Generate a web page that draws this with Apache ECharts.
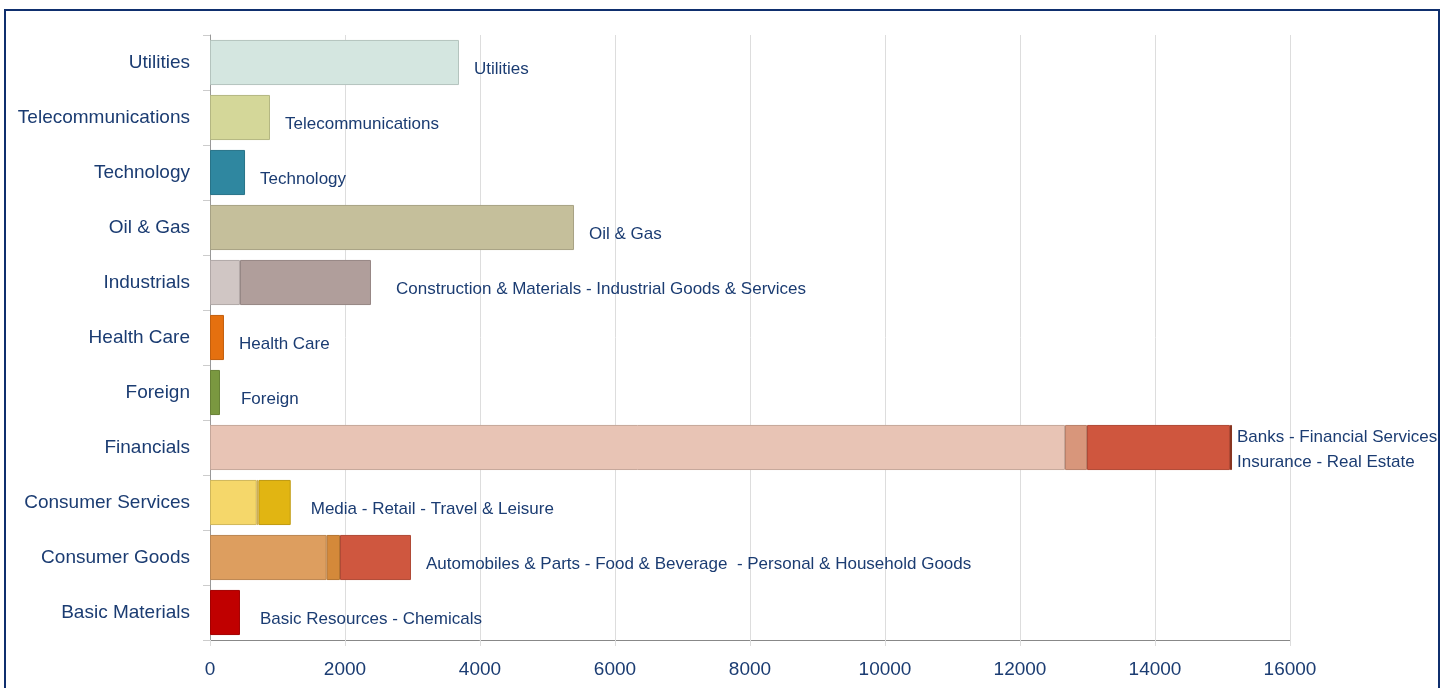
<!DOCTYPE html>
<html>
<head>
<meta charset="utf-8">
<script src="https://cdn.jsdelivr.net/npm/echarts@6/dist/echarts.min.js"></script>
<style>
	html, body { margin: 0; padding: 0; background: #fff; overflow: hidden; }
	#frame { position: absolute; left: 4px; top: 9px; width: 1432px; height: 700px; border: 2px solid #0f2f6e; }
	#main { position: absolute; left: 0; top: 0; width: 1445px; height: 688px; }
</style>
</head>
<body>
<div id="frame"></div>
<div id="main"></div>
<script>
// categories, bottom to top
var sectors = ['Basic Materials', 'Consumer Goods', 'Consumer Services', 'Financials', 'Foreign',
	'Health Care', 'Industrials', 'Oil & Gas', 'Technology', 'Telecommunications', 'Utilities'];

// stacked segments
var seg1 = [444, 1728, 692, 12667, 148, 207, 444, 5393, 519, 889, 3689];
var seg2 = [0, 198, 26, 326, 0, 0, 1941, 0, 0, 0, 0];
var seg3 = [0, 1052, 478, 2118, 0, 0, 0, 0, 0, 0, 0];
var seg4 = [0, 0, 0, 30, 0, 0, 0, 0, 0, 0, 0];

var barLabels = [
	'Basic Resources - Chemicals',
	'Automobiles & Parts - Food & Beverage  - Personal & Household Goods',
	'Media - Retail - Travel & Leisure',
	'Banks - Financial Services\nInsurance - Real Estate',
	'Foreign',
	'Health Care',
	'Construction & Materials - Industrial Goods & Services',
	'Oil & Gas',
	'Technology',
	'Telecommunications',
	'Utilities'
];

var segColors = [
	['#c00000'],
	['#dd9e5f', '#d4893a', '#cf573f'],
	['#f5d76a', '#ecc55c', '#e1b512'],
	['#e8c4b5', '#d8967b', '#cf563e', '#a03d25'],
	['#7a9840'],
	['#e5700f'],
	['#d0c6c4', '#b09e9b'],
	['#c5bf9b'],
	['#2f87a0'],
	['#d4d799'],
	['#d4e6e0']
];

var TEXT = '#1b3c72';
var FONT = "'Liberation Sans', Arial, sans-serif";
var segs = [seg1, seg2, seg3, seg4];
// a few labels sit a little further from their bar
var extraGap = { 'Industrials': 10, 'Foreign': 6, 'Basic Materials': 5, 'Consumer Services': 5 };

function darker(hex) {
	var n = parseInt(hex.slice(1), 16);
	var r = Math.round(((n >> 16) & 255) * 0.85);
	var g = Math.round(((n >> 8) & 255) * 0.85);
	var b = Math.round((n & 255) * 0.85);
	return 'rgb(' + r + ',' + g + ',' + b + ')';
}

function lastSeg(i) {
	var last = 0;
	for (var s = 0; s < segs.length; s++) {
		if (segs[s][i] > 0) last = s;
	}
	return last;
}

var series = segs.map(function(vals, s) {
	return {
		type: 'bar',
		stack: 'total',
		barCategoryGap: '18%',
		data: vals.map(function(v, i) {
			if (!v) {
				return '-';
			}
			var col = segColors[i][s];
			var item = {
				value: v,
				itemStyle: { color: col, borderColor: darker(col), borderWidth: 1 }
			};
			if (lastSeg(i) == s) {
				var multi = barLabels[i].indexOf('\n') >= 0;
				item.label = {
					show: true,
					position: 'right',
					distance: multi ? 5 : 15 + (extraGap[sectors[i]] || 0),
					offset: multi ? [0, 2] : [0, 7],
					formatter: barLabels[i],
					color: TEXT,
					fontSize: 17,
					lineHeight: 25,
					fontFamily: FONT
				};
			}
			return item;
		})
	};
});

var chart = echarts.init(document.getElementById('main'));
chart.setOption({
	animation: false,
	grid: { left: 210, right: 155, top: 35, bottom: 48 },
	xAxis: {
		type: 'value',
		min: 0,
		max: 16000,
		interval: 2000,
		axisLine: { show: true, lineStyle: { color: '#888' } },
		axisTick: { show: true, length: 6, lineStyle: { color: '#ddd' } },
		splitLine: { show: true, lineStyle: { color: '#ddd' } },
		axisLabel: {
			color: TEXT, fontSize: 19, margin: 20, fontFamily: FONT,
			formatter: function(v) { return String(v); }
		}
	},
	yAxis: {
		type: 'category',
		data: sectors,
		axisLine: { show: true, lineStyle: { color: '#999' } },
		axisTick: { show: true, length: 7, lineStyle: { color: '#ccc' } },
		axisLabel: { color: TEXT, fontSize: 19, margin: 20, fontFamily: FONT }
	},
	series: series
});
</script>
</body>
</html>
